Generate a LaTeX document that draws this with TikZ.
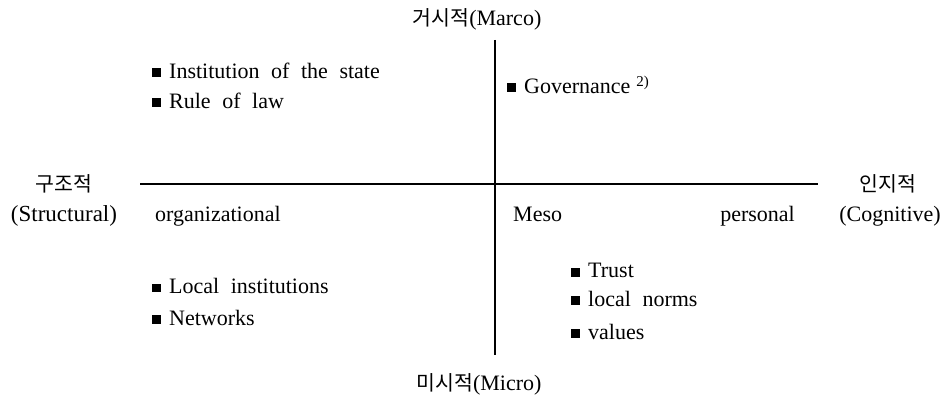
\documentclass[tikz,border=0pt]{standalone}
\usepackage{fontspec}
\setmainfont{Liberation Serif}[WordSpace=2.1]
\newfontfamily\krf{Noto Sans CJK KR}
\newcommand{\kr}{\krf\fontsize{20.5}{24}\selectfont}
\begin{document}
\begin{tikzpicture}[x=1pt,y=-1pt,
  txt/.style={inner sep=0pt,font=\fontsize{22}{26}\selectfont},
  axis/.style={line width=1.3pt,black}]
\newcommand{\bx}{\rule[1.5pt]{9pt}{9pt}\hspace{8pt}}
\useasboundingbox (0,0) rectangle (943,398);
% axes
\coordinate (vt) at (495,40);
\coordinate (vb) at (495,355);
\coordinate (hl) at (140,184);
\coordinate (hr) at (818,184);
\draw[axis] (vt) -- (vb);
\draw[axis] (hl) -- (hr);
% axis labels
\node[txt,anchor=base] (macro) at (477,26) {{\kr 거시적}(Marco)};
\node[txt,anchor=base] (micro) at (479,390) {{\kr 미시적}(Micro)};
\node[txt,anchor=base] (struct1) at (64,192) {\kr 구조적};
\node[txt,anchor=base] (struct2) at (64,222) {\fontsize{23}{26}\selectfont(Structural)};
\node[txt,anchor=base] (cog1) at (888,192) {\kr 인지적};
\node[txt,anchor=base] (cog2) at (890,222) {(Cognitive)};
\node[txt,anchor=base west] (org) at (155,222) {organizational};
\node[txt,anchor=base west] (meso) at (513,222) {Meso};
\node[txt,anchor=base east] (pers) at (795,222) {personal};
% quadrant items
\node[txt,anchor=base west] (i1) at (152,79) {\bx Institution of the state};
\node[txt,anchor=base west] (i2) at (152,109) {\bx Rule of law};
\node[txt,anchor=base west] (g1) at (507,94) {\bx Governance\hspace{6pt}\raisebox{7pt}{\fontsize{15}{17}\selectfont 2)}};
\node[txt,anchor=base west] (l1) at (152,294) {\bx Local institutions};
\node[txt,anchor=base west] (l2) at (152,325) {\bx Networks};
\node[txt,anchor=base west] (t1) at (571,278) {\bx Trust};
\node[txt,anchor=base west] (t2) at (571,306) {\bx local norms};
\node[txt,anchor=base west] (t3) at (571,339) {\bx values};
\end{tikzpicture}
\end{document}
